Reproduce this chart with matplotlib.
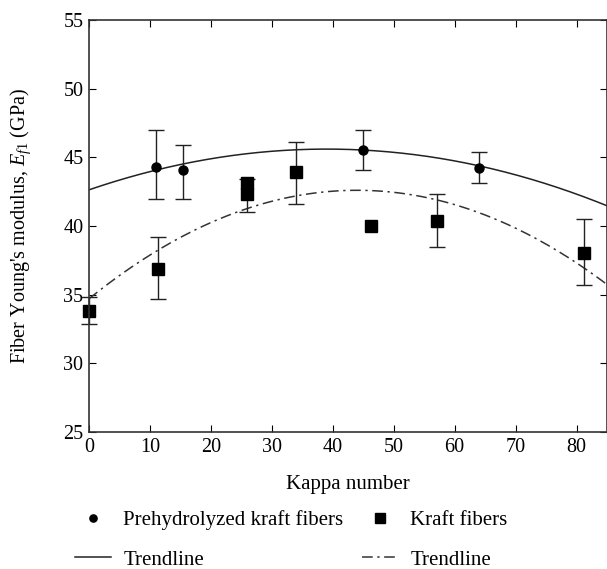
import matplotlib
matplotlib.use('Agg')
import matplotlib.pyplot as plt
import numpy as np

plt.rcParams['font.family'] = 'Liberation Serif'
plt.rcParams['mathtext.fontset'] = 'custom'
plt.rcParams['mathtext.rm'] = 'Liberation Serif'
plt.rcParams['mathtext.it'] = 'Liberation Serif:italic'

# prehydrolyzed kraft fibers
pre_kappa = [11, 15.5, 45, 64]
pre_mod = [44.3, 44.1, 45.5, 44.2]
pre_lo = [42.0, 42.0, 44.1, 43.1]
pre_hi = [47.0, 45.9, 47.0, 45.4]

# kraft fibers (nan = no error bar drawn)
kr_kappa = [0, 11.3, 26, 26, 34, 46.2, 57.1, 81.2]
kr_mod = [33.8, 36.9, 43.1, 42.3, 43.9, 40.0, 40.4, 38.0]
kr_lo = [32.9, 34.7, np.nan, 41.0, 41.6, np.nan, 38.5, 35.7]
kr_hi = [34.8, 39.2, np.nan, 43.4, 46.1, np.nan, 42.3, 40.5]

# trendlines: y = a*(x - xpeak)^2 + ypeak
pre_trend = (-0.00195, 39, 45.6)
kr_trend = (-0.00408, 44, 42.6)

fig = plt.figure(figsize=(6.07, 5.69), dpi=100)
ax = fig.add_axes([89/607, 137/569, 518/607, 412/569])

x = np.linspace(0, 85, 200)
a, xp, yp = pre_trend
l1, = ax.plot(x, a*(x - xp)**2 + yp, color='#222222', lw=1.1)
a, xp, yp = kr_trend
l2, = ax.plot(x, a*(x - xp)**2 + yp, color='#333333', lw=1.1,
              dashes=(7, 3, 1.5, 3))

pm = np.array(pre_mod)
ax.errorbar(pre_kappa, pm, yerr=[pm - pre_lo, np.array(pre_hi) - pm],
            fmt='none', ecolor='#222222', elinewidth=1, capsize=6, capthick=1)
p1, = ax.plot(pre_kappa, pre_mod, 'o', color='black', ms=6.5, clip_on=False)

km = np.array(kr_mod)
ax.errorbar(kr_kappa, km, yerr=[km - kr_lo, np.array(kr_hi) - km],
            fmt='none', ecolor='#222222', elinewidth=1, capsize=6, capthick=1,
            clip_on=False)
p2, = ax.plot(kr_kappa, kr_mod, 's', color='black', ms=8.5, clip_on=False)

ax.set_xlim(0, 85)
ax.set_ylim(25, 55)
ax.set_xticks(np.arange(0, 81, 10))
ax.set_yticks(np.arange(25, 56, 5))
ax.tick_params(direction='in', top=True, right=True, length=5,
               labelsize=14.5, pad=4)
for s in ax.spines.values():
    s.set_linewidth(1.2)
    s.set_color('#333333')

ax.set_xlabel('Kappa number', fontsize=15, labelpad=13)
ax.set_ylabel("Fiber Young's modulus, $E_{f1}$ (GPa)", fontsize=14.5,
              labelpad=22)

fig.legend([p1, l1, p2, l2],
           ['Prehydrolyzed kraft fibers', 'Trendline',
            'Kraft fibers', 'Trendline'],
           ncol=2, loc='upper left', bbox_to_anchor=(65/607, 69/569),
           borderpad=0, frameon=False, fontsize=15, handlelength=1.7,
           handletextpad=0.6, columnspacing=0.9, labelspacing=0.95,
           markerscale=0.8)

fig.savefig('out.png', dpi=100)
